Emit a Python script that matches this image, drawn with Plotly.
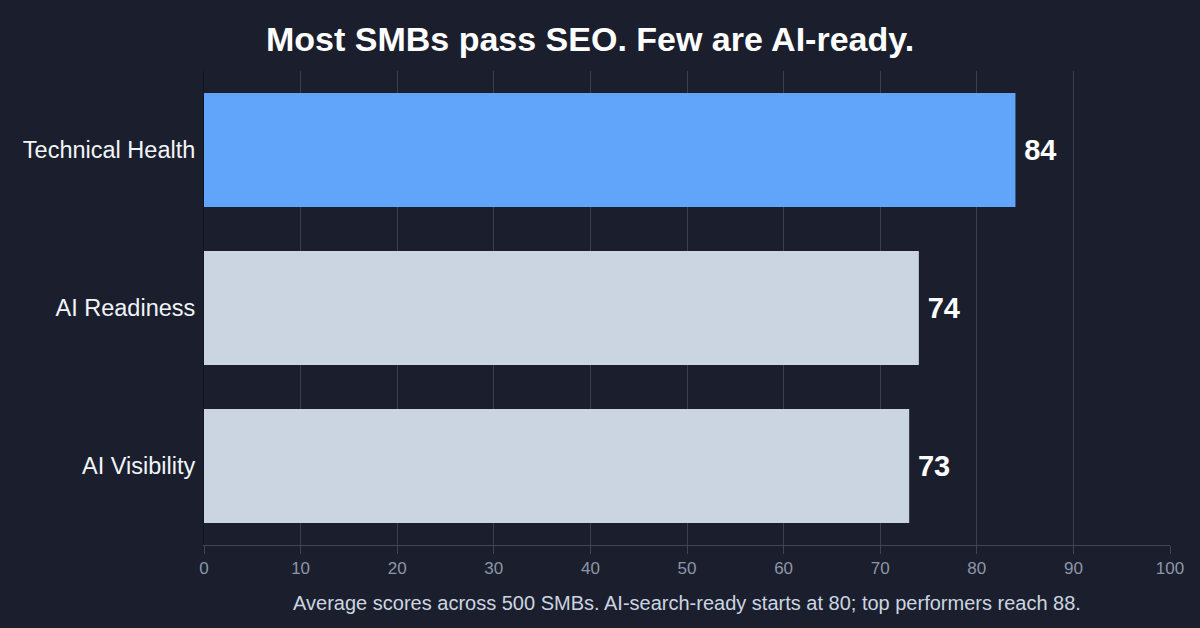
import plotly.graph_objects as go

categories = ["Technical Health", "AI Readiness", "AI Visibility"]
scores = [84, 74, 73]
bar_colors = ["#60a5fa", "#cbd5e1", "#cbd5e1"]

fig = go.Figure(
    go.Bar(
        y=categories,
        x=scores,
        orientation="h",
        marker=dict(color=bar_colors, line=dict(width=0)),
        texttemplate="\u2009%{x}",
        textposition="outside",
        textfont=dict(family="Liberation Sans, Arial, sans-serif", size=29, color="#ffffff", weight="bold"),
        cliponaxis=False,
        hoverinfo="skip",
    )
)

fig.update_layout(
    width=1200,
    height=628,
    paper_bgcolor="#1b1f2d",
    plot_bgcolor="#1b1f2d",
    margin=dict(l=204, r=30, t=71, b=83),
    bargap=0.28,
    showlegend=False,
    font=dict(family="Liberation Sans, Arial, sans-serif"),
    title=dict(
        text="<b>Most SMBs pass SEO. Few are AI-ready.</b>",
        x=0.4917,
        xanchor="center",
        y=0.937,
        yanchor="middle",
        font=dict(size=34, color="#ffffff"),
    ),
    xaxis=dict(
        range=[0, 100],
        tickvals=list(range(0, 101, 10)),
        showgrid=True,
        gridcolor="#3a3f4e",
        gridwidth=1,
        zeroline=False,
        showline=True,
        linecolor="#3f4556",
        linewidth=1,
        ticks="outside",
        ticklen=8,
        tickcolor="#3f4556",
        tickfont=dict(size=17, color="#8d96a8"),
        title=dict(
            text="Average scores across 500 SMBs. AI-search-ready starts at 80; top performers reach 88.",
            font=dict(size=20, color="#cbd5e1"),
            standoff=18,
        ),
    ),
    yaxis=dict(
        autorange="reversed",
        showgrid=False,
        showline=True,
        linecolor="#12151f",
        linewidth=1,
        tickfont=dict(size=23.5, color="#f1f5f9"),
        ticklabelstandoff=3,
    ),
)

fig.write_html("out.html")
